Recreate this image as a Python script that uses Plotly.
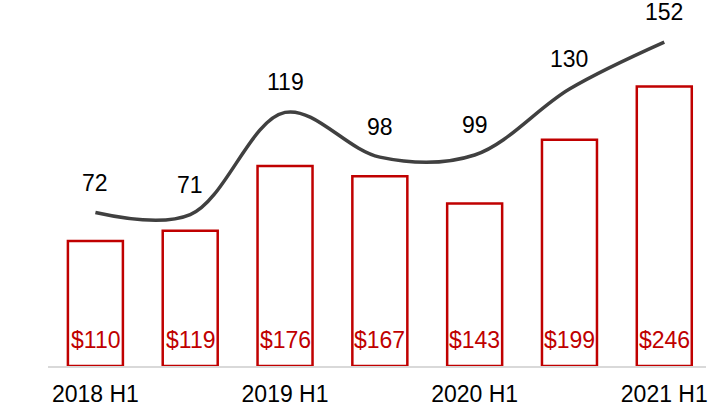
import plotly.graph_objects as go

categories = ["2018 H1", "2018 H2", "2019 H1", "2019 H2", "2020 H1", "2020 H2", "2021 H1"]
bar_values = [110, 119, 176, 167, 143, 199, 246]
line_values = [72, 71, 119, 98, 99, 130, 152]
tick_labels = ["2018 H1", "2019 H1", "2020 H1", "2021 H1"]

RED = "#c00000"
DARK = "#404040"
FONT = "Liberation Sans, Arial, sans-serif"
FS = 23

fig = go.Figure()
fig.add_trace(go.Bar(
    x=categories, y=bar_values,
    marker=dict(color="white", line=dict(color=RED, width=2.5)),
    width=0.58, hoverinfo="skip", showlegend=False,
))
fig.add_trace(go.Scatter(
    x=categories, y=line_values, yaxis="y2", mode="lines",
    line=dict(color=DARK, width=3.5, shape="spline", smoothing=1.0),
    hoverinfo="skip", showlegend=False,
))

annotations = []
for c, v in zip(categories, bar_values):
    annotations.append(dict(
        x=c, y=0, xref="x", yref="y", text=f"${v}", showarrow=False,
        yanchor="bottom", yshift=11, font=dict(family=FONT, size=FS, color=RED),
    ))
for c, v in zip(categories, line_values):
    annotations.append(dict(
        x=c, y=v, xref="x", yref="y2", text=str(v), showarrow=False,
        yanchor="bottom", yshift=15, font=dict(family=FONT, size=FS, color="black"),
    ))

fig.update_layout(
    width=708, height=409,
    margin=dict(l=48, r=0, t=25, b=43),
    paper_bgcolor="white", plot_bgcolor="white",
    font=dict(family=FONT, size=FS, color="black"),
    bargap=0.42,
    xaxis=dict(
        type="category", categoryorder="array", categoryarray=categories,
        range=[-0.5, 6.44], tickvals=tick_labels, ticktext=tick_labels,
        showline=True, linecolor="#d9d9d9", linewidth=1.5,
        showgrid=False, zeroline=False, ticks="", ticklabelstandoff=7,
        tickfont=dict(family=FONT, size=FS, color="black"),
    ),
    yaxis=dict(range=[0, 300], showticklabels=False, showgrid=False, zeroline=False),
    yaxis2=dict(range=[0, 160], overlaying="y", showticklabels=False,
                showgrid=False, zeroline=False),
    annotations=annotations,
)

fig.write_html(
    "out.html",
    config={"displayModeBar": False},
    post_script="document.body.style.margin='0';document.body.style.overflow='hidden';",
)
